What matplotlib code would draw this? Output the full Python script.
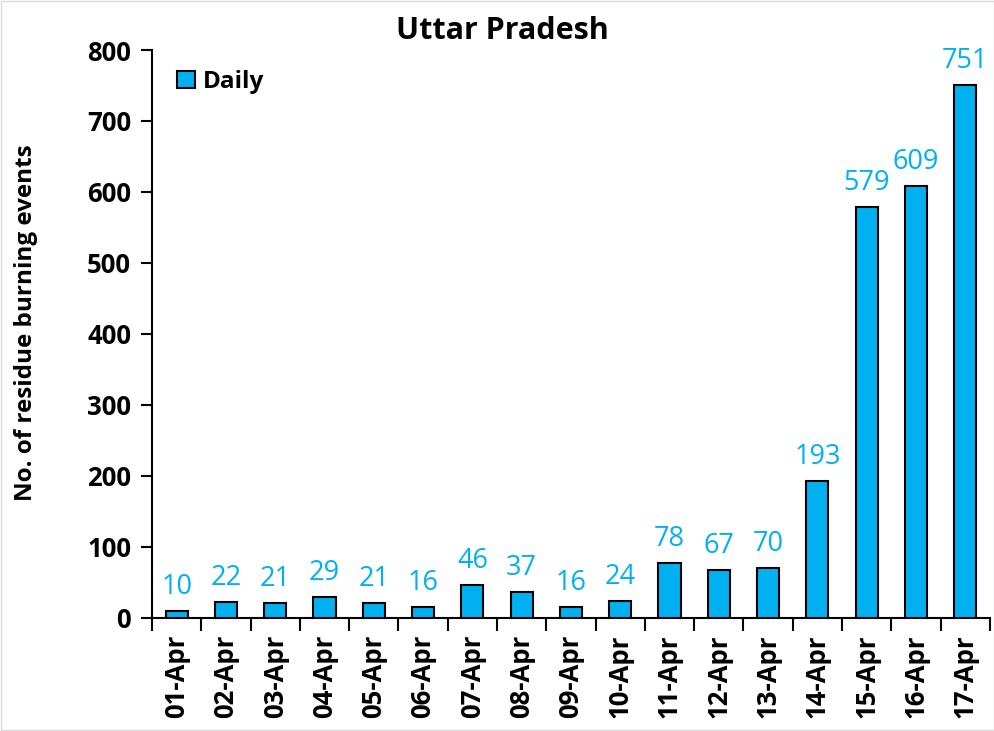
import matplotlib
matplotlib.use("Agg")
import matplotlib.pyplot as plt
import numpy as np
from matplotlib.ticker import FixedLocator

dates = ["01-Apr", "02-Apr", "03-Apr", "04-Apr", "05-Apr", "06-Apr", "07-Apr", "08-Apr",
         "09-Apr", "10-Apr", "11-Apr", "12-Apr", "13-Apr", "14-Apr", "15-Apr", "16-Apr", "17-Apr"]
daily = [10, 22, 21, 29, 21, 16, 46, 37, 16, 24, 78, 67, 70, 193, 579, 609, 751]
yticks = [0, 100, 200, 300, 400, 500, 600, 700, 800]

plt.rcParams['font.family'] = ['Open Sans', 'DejaVu Sans']
blue = "#00B0F0"

fig = plt.figure(figsize=(9.95, 7.31), dpi=100)
ax = fig.add_axes([0.1528, 0.1546, 0.842, 0.777])
x = np.arange(len(dates))
bars = ax.bar(x, daily, width=0.45, color=blue, edgecolor="black", linewidth=1.5, label="Daily", zorder=3)
for xi, v in zip(x, daily):
    ax.text(xi, v + 14, str(v), ha="center", va="bottom", color=blue, fontsize=19.5)

ax.set_xlim(-0.5, len(dates) - 0.5)
ax.set_ylim(0, 800)
ax.set_yticks(yticks)
ax.set_yticklabels([str(t) for t in yticks], fontsize=18.5, fontweight="bold")
ax.set_xticks(x)
ax.set_xticklabels(dates, rotation=90, fontsize=18.5, fontweight="bold")
ax.xaxis.set_minor_locator(FixedLocator(np.arange(-0.5, len(dates), 1.0)))
ax.tick_params(axis="x", which="major", length=0, pad=12)
ax.tick_params(axis="x", which="minor", length=9, width=1.5, direction="out")
ax.tick_params(axis="y", length=8, width=1.5, direction="out", pad=7)
for s in ["top", "right"]:
    ax.spines[s].set_visible(False)
for s in ["left", "bottom"]:
    ax.spines[s].set_linewidth(1.5)
ax.set_ylabel("No. of residue burning events", fontsize=17.5, fontweight="bold")
ax.yaxis.set_label_coords(-0.136, 0.52)
fig.text(0.505, 0.958, "Uttar Pradesh", ha="center", va="center", fontsize=22, fontweight="bold")
leg = ax.legend(loc="upper left", bbox_to_anchor=(0.008, 0.997), frameon=False,
                prop={"size": 17.5, "weight": "bold"},
                handlelength=0.75, handleheight=0.75, handletextpad=0.3, borderaxespad=0.35)

fig.patches.append(plt.Rectangle((0.001, 0.001), 0.998, 0.998, transform=fig.transFigure,
                                 fill=False, edgecolor="#d9d9d9", linewidth=1))
fig.savefig("out.png", dpi=100)
